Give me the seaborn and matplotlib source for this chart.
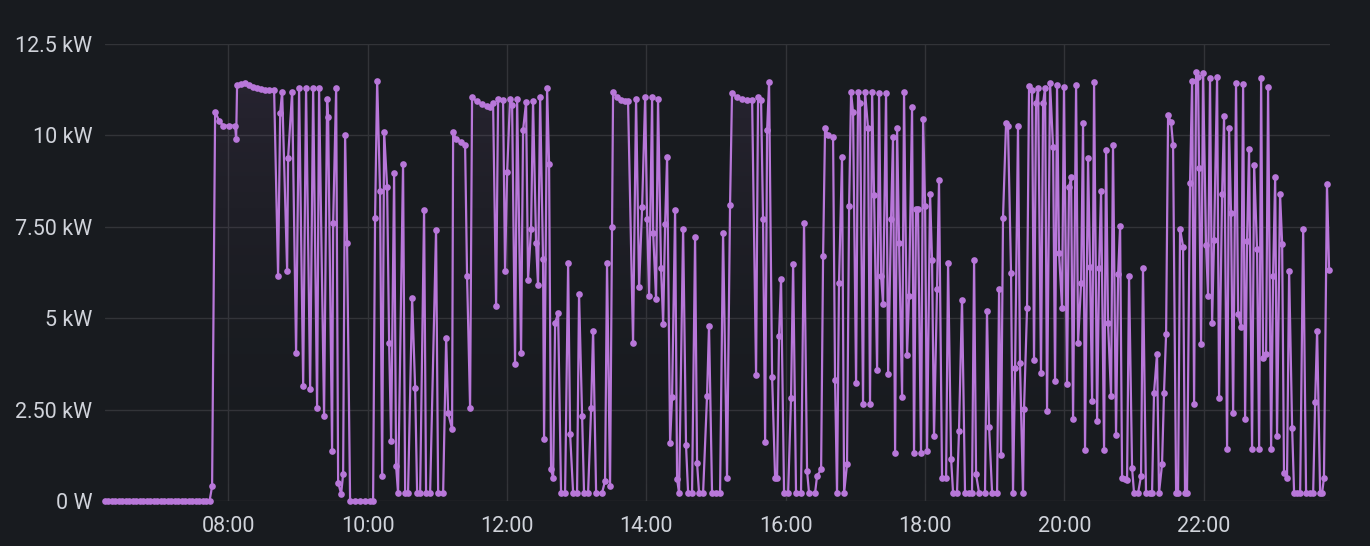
import numpy as np
import pandas as pd
import matplotlib
matplotlib.use("Agg")
import matplotlib.pyplot as plt
import matplotlib.dates as mdates
from matplotlib.colors import LinearSegmentedColormap
import seaborn as sns

# ---- data: minutes since midnight, power in kW ----
minutes = [
    374, 377, 380, 383, 386, 389, 392, 395, 398, 401, 404, 407, 410, 413, 416, 419,
    422, 425, 428, 431, 434, 437, 440, 443, 446, 449, 452, 455, 458, 461, 464,
    466.2, 468.8, 472.3, 475.7, 480.9, 486.0, 486.9, 487.7, 491.2, 494.6, 498.1,
    501.5, 505.0, 508.4, 511.8, 515.3, 519.6, 523.0, 524.8, 526.5, 530.8, 531.6,
    535.1, 538.5, 541.1, 544.6, 547.1, 550.6, 553.2, 556.6, 558.3, 562.6, 565.2,
    566.1, 569.5, 570.4, 573.0, 574.7, 577.3, 579.0, 580.7, 582.4, 585.0, 589.3,
    593.6, 597.9, 602.2, 604.8, 606.5, 608.3, 610.8, 612.6, 614.3, 616.9, 618.6,
    620.3, 622.9, 624.6, 626.3, 630.6, 632.4, 634.9, 638.4, 641.0, 642.7, 645.3,
    648.7, 650.4, 653.9, 659.0, 660.8, 665.1, 667.7, 669.4, 672.8, 673.7, 676.3,
    680.6, 684.0, 685.7, 688.3, 690.0, 694.3, 698.6, 702.9, 705.5, 708.1, 710.7,
    712.4, 716.7, 718.4, 720.2, 722.7, 724.5, 727.0, 728.8, 732.2, 733.9, 736.5,
    738.2, 740.8, 742.5, 745.1, 746.8, 748.6, 751.1, 752.0, 754.6, 756.3, 758.0,
    759.8, 761.5, 764.1, 766.6, 770.1, 772.7, 774.4, 777.0, 780.4, 782.1, 784.7,
    786.4, 789.9, 792.5, 794.2, 796.8, 801.9, 804.5, 806.2, 808.8, 810.5, 811.4,
    814.8, 818.3, 821.7, 824.3, 828.6, 831.2, 833.8, 836.4, 839.0, 840.7, 842.4,
    845.0, 845.9, 848.4, 850.1, 852.7, 854.5, 856.2, 857.9, 860.5, 862.2, 864.8,
    866.5, 868.2, 871.7, 874.2, 876.0, 879.4, 882.0, 883.7, 885.4, 888.9, 892.3,
    894.0, 896.6, 900.1, 903.5, 906.1, 909.5, 912.1, 913.8, 918.1, 922.4, 926.8,
    931.1, 934.5, 936.2, 938.8, 940.5, 942.3, 944.0, 945.7, 948.3, 950.9, 952.6,
    954.3, 956.0, 958.6, 962.1, 964.6, 966.4, 968.9, 973.2, 975.8, 978.4, 980.1,
    985.3, 987.0, 990.5, 992.2, 993.9, 996.5, 1000.8, 1002.5, 1004.2, 1005.9,
    1008.5, 1010.3, 1012.8, 1014.6, 1016.3, 1018.0, 1020.6, 1022.3, 1024.0, 1026.6,
    1028.3, 1030.9, 1032.6, 1034.4, 1036.1, 1038.7, 1040.4, 1042.1, 1043.8, 1046.4,
    1048.2, 1050.7, 1052.4, 1054.2, 1055.9, 1057.6, 1060.2, 1061.9, 1064.5, 1066.2,
    1068.8, 1070.5, 1072.2, 1073.9, 1076.5, 1078.3, 1080.0, 1081.7, 1084.3, 1086.0,
    1087.7, 1090.3, 1092.0, 1094.6, 1098.1, 1099.8, 1102.4, 1104.1, 1107.5, 1109.2,
    1111.8, 1114.4, 1117.8, 1120.4, 1122.2, 1123.9, 1126.5, 1131.6, 1133.3, 1135.1,
    1137.7, 1142.0, 1143.7, 1145.4, 1147.1, 1149.7, 1151.4, 1154.0, 1155.7, 1157.5,
    1160.0, 1161.7, 1164.3, 1165.2, 1167.8, 1169.5, 1172.1, 1173.8, 1175.5, 1177.3,
    1179.8, 1181.6, 1183.3, 1185.0, 1187.6, 1190.2, 1191.9, 1193.6, 1195.3, 1197.9,
    1199.6, 1202.2, 1203.9, 1205.7, 1207.4, 1210.0, 1211.7, 1214.3, 1216.0, 1217.7,
    1220.3, 1222.0, 1223.8, 1225.5, 1228.1, 1229.8, 1231.5, 1234.1, 1235.8, 1237.5,
    1240.1, 1241.8, 1244.4, 1246.2, 1247.9, 1249.6, 1252.2, 1253.9, 1255.6, 1258.2,
    1259.9, 1263.4, 1265.9, 1267.6, 1270.2, 1273.7, 1275.4, 1277.1, 1279.7, 1281.4,
    1284.0, 1285.7, 1287.5, 1289.2, 1291.8, 1293.5, 1296.1, 1297.8, 1299.5, 1302.1,
    1303.8, 1305.5, 1308.1, 1309.9, 1311.6, 1313.3, 1315.0, 1315.9, 1317.6, 1319.3,
    1321.9, 1323.6, 1325.3, 1327.1, 1328.8, 1331.4, 1333.1, 1335.7, 1337.4, 1340.0,
    1341.7, 1343.4, 1345.2, 1347.7, 1349.5, 1352.1, 1353.8, 1355.5, 1357.2, 1358.9,
    1361.5, 1363.3, 1365.8, 1367.6, 1369.3, 1371.0, 1373.6, 1375.3, 1377.9, 1379.6,
    1381.4, 1383.0, 1385.6, 1387.4, 1389.0, 1391.6, 1393.4, 1396.0, 1397.7, 1400.3,
    1402.9, 1405.5, 1408.0, 1411.5, 1414.1, 1415.8, 1417.5, 1420.1, 1421.8, 1423.4,
    1426.0, 1427.8,
]

power_kw = [
    0, 0, 0, 0, 0, 0, 0, 0, 0, 0, 0, 0, 0, 0, 0, 0,
    0, 0, 0, 0, 0, 0, 0, 0, 0, 0, 0, 0, 0, 0, 0,
    0.4, 10.65, 10.4, 10.27, 10.27, 10.27, 9.9, 11.37, 11.4, 11.42, 11.38,
    11.33, 11.3, 11.27, 11.25, 11.24, 11.23, 6.16, 10.6, 11.2, 6.3, 9.37,
    11.2, 4.05, 11.3, 3.15, 11.3, 3.07, 11.3, 2.55, 11.3, 2.33, 11.0,
    10.5, 1.37, 7.6, 11.3, 0.5, 0.2, 0.73, 10.0, 7.05, 0, 0,
    0, 0, 0, 0, 7.75, 11.5, 8.47, 0.68, 10.1, 8.58, 4.33,
    1.64, 8.96, 0.96, 0.22, 9.23, 0.22, 0.22, 5.56, 3.1, 0.22, 0.22,
    7.97, 0.22, 0.22, 7.42, 0.22, 0.22, 4.47, 2.4, 1.97, 10.08, 9.9,
    9.82, 9.75, 6.16, 2.55, 11.04, 10.93, 10.85, 10.8, 10.77, 10.88, 5.34,
    11.0, 10.96, 6.3, 8.99, 11.0, 10.82, 3.75, 11.0, 4.05, 10.14, 10.9,
    6.05, 7.45, 10.93, 7.07, 5.9, 11.04, 6.63, 1.7, 11.3, 9.23, 0.87,
    0.63, 4.88, 5.13, 0.22, 0.22, 6.52, 1.84, 0.22, 0.22, 5.67, 2.33,
    0.22, 0.22, 2.55, 4.66, 0.22, 0.22, 0.55, 6.5, 0.41, 7.5, 11.18,
    11.05, 10.98, 10.95, 10.93, 4.33, 11.0, 5.84, 8.03, 11.04, 7.72, 5.62,
    11.04, 7.34, 5.53, 11.0, 6.38, 4.85, 7.59, 9.4, 1.59, 2.85, 7.97,
    0.6, 0.22, 7.45, 1.53, 0.22, 0.22, 7.23, 1.04, 0.22, 0.22, 2.88,
    4.79, 0.22, 0.22, 0.22, 7.34, 0.63, 8.1, 11.15, 11.05, 11.0, 10.98,
    10.98, 3.45, 11.04, 10.98, 7.72, 1.62, 10.14, 11.45, 3.4, 0.63, 0.63,
    4.52, 6.08, 0.22, 0.22, 2.82, 6.49, 0.22, 0.22, 7.61, 0.82, 0.22,
    0.22, 0.68, 0.87, 6.7, 10.2, 10.0, 9.95, 3.3, 0.22, 5.97,
    9.4, 0.22, 1.0, 8.08, 11.18, 10.63, 3.23, 11.2, 10.88, 2.66,
    11.2, 10.2, 2.66, 11.2, 8.36, 3.59, 11.15, 6.16, 5.4, 11.15,
    3.48, 7.7, 9.95, 1.3, 10.2, 7.07, 2.85, 11.18, 4.0, 5.62,
    10.77, 1.3, 8.0, 8.0, 1.3, 10.44, 8.08, 1.37, 8.4, 6.58,
    1.78, 5.81, 8.77, 0.63, 0.63, 6.52, 1.15, 0.22, 0.22, 1.92,
    5.51, 0.22, 0.22, 0.22, 6.58, 0.73, 0.22, 0.22, 5.2, 2.03,
    0.22, 0.22, 5.81, 1.26, 7.75, 10.33, 10.25, 6.25, 0.22, 3.64,
    10.25, 3.78, 0.22, 2.52, 5.29, 11.34, 11.23, 3.86, 10.88, 11.29,
    3.51, 10.88, 11.3, 2.47, 11.42, 9.67, 3.29, 11.37, 6.79, 5.29,
    11.32, 3.2, 8.58, 8.85, 2.25, 11.37, 4.33, 5.95, 10.33, 1.4,
    9.37, 6.41, 2.74, 11.45, 2.19, 6.36, 8.49, 1.4, 9.59, 4.88,
    2.88, 9.73, 1.81, 6.22, 7.53, 0.63, 0.6, 0.57, 6.16, 0.9,
    0.22, 0.22, 0.68, 6.36, 0.22, 0.22, 0.22, 2.96, 4.03, 0.22,
    1.0, 2.96, 4.58, 10.55, 10.36, 9.73, 0.22, 0.22, 7.45, 6.96,
    0.22, 0.22, 8.71, 11.5, 2.66, 11.73, 11.59, 9.12, 4.3, 11.7,
    6.99, 5.62, 11.56, 4.88, 7.15, 11.59, 2.82, 8.4, 10.52, 1.42,
    10.19, 7.89, 2.41, 11.42, 5.12, 4.77, 11.4, 2.25, 7.12, 9.64,
    1.42, 9.2, 6.88, 1.42, 11.56, 3.92, 4.03, 11.32, 1.42, 6.16,
    8.85, 1.78, 8.4, 7.04, 0.77, 0.63, 6.3, 2.0, 0.22, 0.22,
    0.22, 7.45, 0.22, 0.22, 0.22, 2.7, 4.66, 0.22, 0.22, 0.63,
    8.66, 6.33,
]

y_ticks = [0, 2.5, 5, 7.5, 10, 12.5]
y_tick_labels = ["0 W", "2.50 kW", "5 kW", "7.50 kW", "10 kW", "12.5 kW"]
x_tick_hours = [8, 10, 12, 14, 16, 18, 20, 22]

# ---- styling ----
BG = "#181b1f"
GRID = "#323438"
TEXT = "#d0d3da"
LINE = "#b877d9"

sns.set_theme(style="dark")
plt.rcParams["font.family"] = ["Roboto", "DejaVu Sans"]

base = pd.Timestamp("2024-01-01")
df = pd.DataFrame({
    "time": base + pd.to_timedelta(minutes, unit="m"),
    "power": power_kw,
})

fig = plt.figure(figsize=(13.7, 5.46), dpi=100, facecolor=BG)
ax = fig.add_axes([105 / 1370, 45 / 546, 1225 / 1370, 457 / 546])
ax.set_facecolor(BG)

# gradient fill under the curve
xnum = mdates.date2num(df["time"])
poly = ax.fill_between(df["time"], 0, df["power"], color="none", lw=0)
cmap = LinearSegmentedColormap.from_list("g", [(0.094, 0.106, 0.122, 0.0), (0.72, 0.47, 0.85, 0.11)])
grad = np.linspace(0, 1, 256).reshape(-1, 1)
im = ax.imshow(grad, extent=[xnum.min(), xnum.max(), 0, 12.5], origin="lower",
               aspect="auto", cmap=cmap, zorder=1)
im.set_clip_path(poly.get_paths()[0], transform=ax.transData)

sns.lineplot(data=df, x="time", y="power", ax=ax, color=LINE, lw=1.6,
             marker="o", markersize=4.8, markeredgewidth=0, estimator=None,
             sort=False, zorder=3)
for ln in ax.lines:
    ln.set_clip_on(False)

ax.set_ylim(0, 12.5)
ax.set_xlim(base + pd.Timedelta(minutes=374), base + pd.Timedelta(minutes=1428.6))
ax.set_yticks(y_ticks)
ax.set_yticklabels(y_tick_labels)
ax.set_xticks([base + pd.Timedelta(hours=h) for h in x_tick_hours])
ax.xaxis.set_major_formatter(mdates.DateFormatter("%H:%M"))

ax.grid(True, color=GRID, lw=1.0)
ax.set_axisbelow(True)
for s in ax.spines.values():
    s.set_visible(False)
ax.tick_params(axis="both", length=0, colors=TEXT, labelsize=15.5)
ax.tick_params(axis="y", pad=9)
ax.tick_params(axis="x", pad=11)
ax.set_xlabel("")
ax.set_ylabel("")

fig.savefig("out.png", dpi=100, facecolor=BG)
